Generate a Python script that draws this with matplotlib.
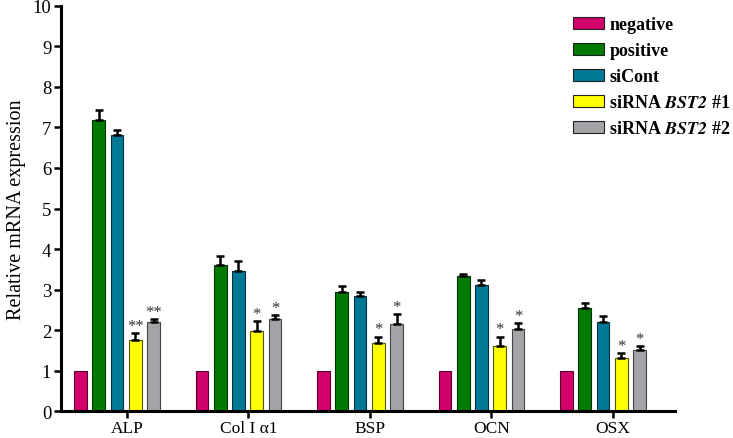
import matplotlib
matplotlib.use("Agg")
import matplotlib.pyplot as plt
from matplotlib.patches import Patch
import numpy as np

plt.rcParams['font.family'] = ['Liberation Serif', 'DejaVu Serif']
plt.rcParams['mathtext.fontset'] = 'stix'

categories = ["ALP", "Col I α1", "BSP", "OCN", "OSX"]
series = ["negative", "positive", "siCont", "siRNA BST2 #1", "siRNA BST2 #2"]
negative = [1.0, 1.0, 1.0, 1.0, 1.0]
positive = [7.17, 3.61, 2.95, 3.33, 2.54]
siCont = [6.81, 3.45, 2.84, 3.12, 2.20]
si1 = [1.76, 1.99, 1.68, 1.62, 1.32]
si2 = [2.19, 2.28, 2.16, 2.02, 1.51]
negative_err = [0, 0, 0, 0, 0]
positive_err = [0.26, 0.21, 0.15, 0.06, 0.13]
siCont_err = [0.13, 0.25, 0.09, 0.11, 0.14]
si1_err = [0.17, 0.23, 0.16, 0.22, 0.11]
si2_err = [0.09, 0.10, 0.23, 0.16, 0.10]
si1_stars = ["**", "*", "*", "*", "*"]
si2_stars = ["**", "*", "*", "*", "*"]

values = [negative, positive, siCont, si1, si2]
errors = [negative_err, positive_err, siCont_err, si1_err, si2_err]
colors = ["#D1006A", "#007A00", "#007896", "#FFFF00", "#A3A3A8"]
edges = ["#5a0030", "#003300", "#003040", "#555500", "#444444"]

fig = plt.figure(figsize=(7.33, 4.39), dpi=100)
ax = fig.add_axes([61/733, 1-412.3/439, (675-61)/733, (412.3-6.7)/439])

x = np.arange(len(categories))
spacing = 0.1506
width = 0.1045
for j, (vals, errs) in enumerate(zip(values, errors)):
    pos = x + (j - 2) * spacing
    ax.bar(pos, vals, width=width, color=colors[j], edgecolor=edges[j], linewidth=0.8, zorder=2)
    if j > 0:
        ax.errorbar(pos, vals, yerr=[np.zeros(len(vals)), errs], fmt='none', ecolor='black',
                    elinewidth=1.8, capsize=2.7, capthick=1.8, zorder=3)

for j, stars in [(3, si1_stars), (4, si2_stars)]:
    pos = x + (j - 2) * spacing
    for i, s in enumerate(stars):
        top = values[j][i] + errors[j][i]
        ax.text(pos[i], top - 0.02, s, ha='center', va='bottom', fontsize=12, color='#333333')

ax.set_xlim(-0.461, 4.593)
ax.set_ylim(0, 10)
ax.set_yticks(range(0, 11))
ax.set_xticks(x + 0.082)
ax.set_xticklabels(categories)
ax.tick_params(axis='both', width=1.8, length=5, direction='out', colors='black')
ax.tick_params(axis='y', labelsize=13.5, pad=2)
ax.tick_params(axis='x', labelsize=12.5, pad=1.5)
for side in ['top', 'right']:
    ax.spines[side].set_visible(False)
for side in ['left', 'bottom']:
    ax.spines[side].set_linewidth(2.2)
ax.set_ylabel("Relative mRNA expression", fontsize=14.5, labelpad=5)

labels = ["negative", "positive", "siCont",
          r"siRNA $\mathbfit{BST2}$ #1", r"siRNA $\mathbfit{BST2}$ #2"]
handles = [Patch(facecolor=c, edgecolor='#222222', linewidth=0.8) for c in colors]
leg = fig.legend(handles, labels, loc='upper left', bbox_to_anchor=(566/733, 1-10/439),
                 frameon=False, prop={'weight': 'bold', 'size': 13},
                 handlelength=1.7, handleheight=0.67, handletextpad=0.3, labelspacing=0.5,
                 borderaxespad=0, borderpad=0.4)

fig.savefig("out.png", dpi=100)
